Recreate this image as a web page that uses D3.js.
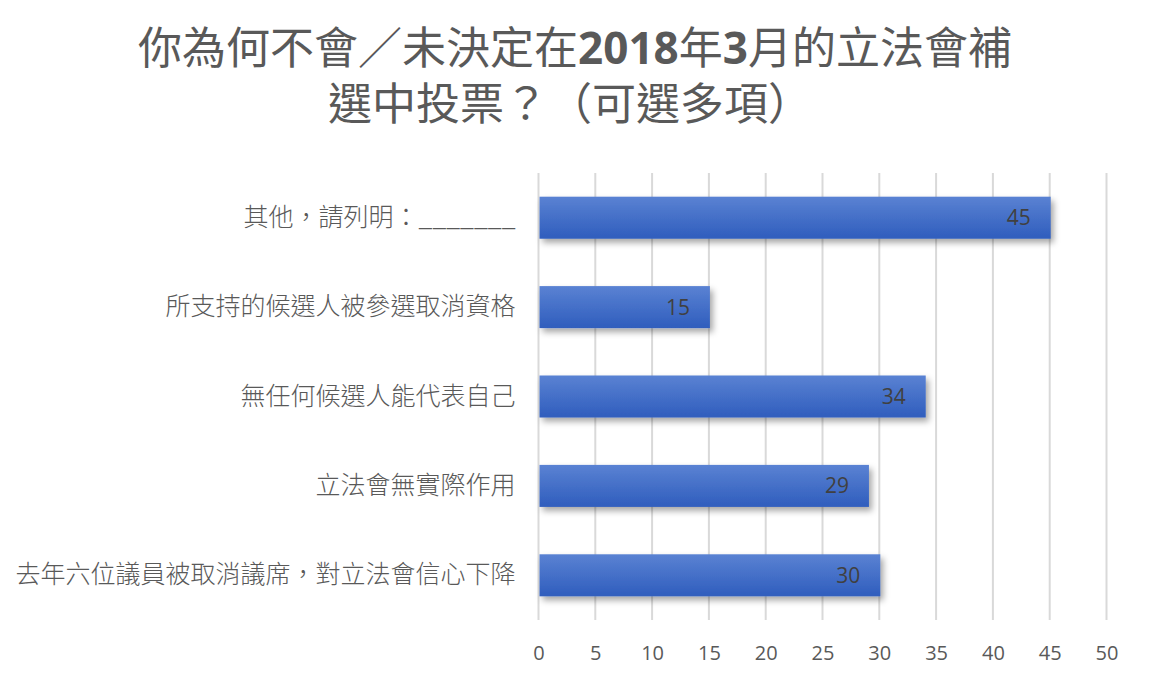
<!DOCTYPE html>
<html>
<head>
<meta charset="utf-8">
<script src="https://cdn.jsdelivr.net/npm/d3@7/dist/d3.min.js"></script>
<style>
  html, body { margin: 0; padding: 0; background: #fff; }
  #chart { width: 1152px; height: 681px; }
</style>
</head>
<body>
<div id="chart"></div>
<script>
// categories listed top to bottom, as in the picture
var categories = [
  '其他，請列明：_______',
  '所支持的候選人被參選取消資格',
  '無任何候選人能代表自己',
  '立法會無實際作用',
  '去年六位議員被取消議席，對立法會信心下降'
]
var values = [45, 15, 34, 29, 30]
var xTicks = [0, 5, 10, 15, 20, 25, 30, 35, 40, 45, 50]
var titleLine1 = [
  { t: '你為何不會／未決定在', bold: false },
  { t: '2018', bold: true },
  { t: '年', bold: false },
  { t: '3', bold: true },
  { t: '月的立法會補', bold: false }
]
var titleLine2 = '選中投票？（可選多項）'

var width = 1152
var height = 681
var margin = { top: 173, bottom: 61, left: 538.5, right: 45 }
var innerWidth = width - margin.left - margin.right
var innerHeight = height - margin.top - margin.bottom

var cjk = '"Noto Sans CJK TC", "Noto Sans CJK SC", sans-serif'
var latin = '"Open Sans", "Noto Sans", sans-serif'

var svg = d3.select('#chart')
  .append('svg').attr('width', width).attr('height', height)

var defs = svg.append('defs')
var grad = defs.append('linearGradient')
  .attr('id', 'barGrad').attr('x1', 0).attr('y1', 0).attr('x2', 0).attr('y2', 1)
grad.append('stop').attr('offset', '0%').attr('stop-color', '#5a82d3')
grad.append('stop').attr('offset', '100%').attr('stop-color', '#2f5dbd')
var shadow = defs.append('filter').attr('id', 'shadow')
  .attr('x', '-5%').attr('y', '-20%').attr('width', '115%').attr('height', '160%')
shadow.append('feDropShadow')
  .attr('dx', 3).attr('dy', 4).attr('stdDeviation', 3)
  .attr('flood-color', '#000').attr('flood-opacity', 0.35)

// title
var title = svg.append('text')
  .attr('x', width / 2 - 1).attr('y', 64)
  .attr('text-anchor', 'middle')
  .style('font-family', cjk)
  .style('font-size', '44px')
  .style('fill', '#595959')
title.selectAll('tspan')
  .data(titleLine1)
  .join('tspan')
  .style('font-weight', d => d.bold ? 'bold' : 'normal')
  .style('font-family', d => d.bold ? '"Open Sans", ' + cjk : cjk)
  .text(d => d.t)
svg.append('text')
  .attr('x', width / 2 - 6).attr('y', 120)
  .attr('text-anchor', 'middle')
  .style('font-family', cjk)
  .style('font-size', '44px')
  .style('fill', '#595959')
  .text(titleLine2)

var g = svg.append('g').attr('transform', `translate(${margin.left}, ${margin.top})`)

var x = d3.scaleLinear().domain([0, 50]).range([0, innerWidth - 0.5])
var y = d3.scaleBand().domain(categories).range([0, innerHeight])
  .paddingInner(0.53).paddingOuter(0.265)

// vertical gridlines
g.append('g')
  .selectAll('line')
  .data(xTicks)
  .join('line')
  .attr('x1', d => x(d)).attr('x2', d => x(d))
  .attr('y1', 0).attr('y2', innerHeight)
  .style('stroke', '#d9d9d9')
  .style('stroke-width', 2)

// x axis labels
var xAxis = g.append('g')
  .attr('transform', `translate(0, ${innerHeight})`)
  .call(d3.axisBottom(x).tickValues(xTicks).tickSize(0).tickPadding(26))
xAxis.select('.domain').remove()
xAxis.selectAll('text')
  .style('font-family', latin)
  .style('font-size', '20px')
  .style('fill', '#595959')

// category labels
var yAxis = g.append('g')
  .call(d3.axisLeft(y).tickSize(0).tickPadding(23))
yAxis.select('.domain').remove()
yAxis.selectAll('text')
  .style('font-family', cjk)
  .style('font-size', '25px')
  .style('font-weight', 300)
  .style('fill', '#595959')

var data = categories.map((c, i) => ({ cat: c, value: values[i] }))

// bars
g.selectAll('.bar')
  .data(data)
  .join('rect')
  .attr('class', 'bar')
  .attr('x', x(0) + 1)
  .attr('y', d => y(d.cat))
  .attr('width', d => x(d.value) - x(0))
  .attr('height', y.bandwidth())
  .style('fill', 'url(#barGrad)')
  .attr('filter', 'url(#shadow)')

// value labels, inside end
g.selectAll('.val')
  .data(data)
  .join('text')
  .attr('class', 'val')
  .attr('x', d => x(d.value) - 19)
  .attr('y', d => y(d.cat) + y.bandwidth() / 2)
  .attr('dy', '0.36em')
  .attr('text-anchor', 'end')
  .style('font-family', latin)
  .style('font-size', '21px')
  .style('fill', '#404040')
  .text(d => d.value)
</script>
</body>
</html>
